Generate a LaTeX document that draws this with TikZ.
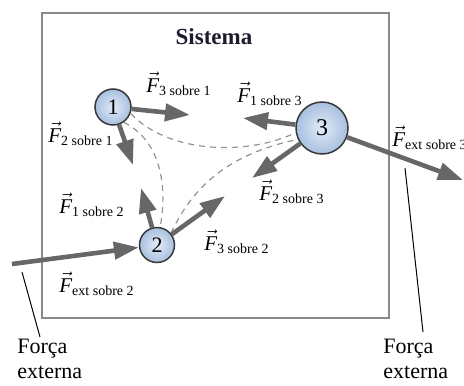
\documentclass[tikz,border=0pt]{standalone}
\usepackage{fontspec}
\setmainfont{Liberation Serif}
\usepackage{amsmath}
\usetikzlibrary{arrows.meta}
\definecolor{arrowgray}{HTML}{676767}
\definecolor{boxgray}{HTML}{8A8A8A}
\definecolor{ballin}{HTML}{E3ECF7}
\definecolor{ballout}{HTML}{A7BFDF}
\definecolor{titlecol}{HTML}{1C1C2E}
\newcommand{\vF}[1]{$\vec{\mathit{F}}_{\text{\fontsize{7}{8}\selectfont #1}}$}
\begin{document}
\begin{tikzpicture}[x=0.5pt,y=-0.5pt,
  force/.style={draw=arrowgray, line width=2.3pt, -{Triangle[length=12.5pt,width=8.5pt]}},
  inter/.style={draw=gray!85, line width=0.6pt, dash pattern=on 3pt off 2.5pt},
  ball/.style={circle, draw=black!78, line width=0.75pt, inner color=ballin, outer color=ballout, inner sep=0pt},
  lbl/.style={anchor=base west, inner sep=0pt, font=\fontsize{10.5}{12}\selectfont},
  leader/.style={draw=black, line width=0.5pt},
  note/.style={anchor=north west, inner sep=0pt, align=left, font=\fontsize{11}{12.5}\selectfont}]
\useasboundingbox (0,0) rectangle (464,385);
% system box
\draw[boxgray, line width=0.8pt] (42,13) rectangle (389,318);
\node[font=\bfseries\fontsize{11.5}{14}\selectfont, text=titlecol, anchor=base, inner sep=0pt] (title) at (214,45) {Sistema};
% particles
\node[ball, minimum size=18pt, font=\fontsize{11}{12}\selectfont] (c1) at (113,107) {1};
\node[ball, minimum size=17.5pt, font=\fontsize{11}{12}\selectfont] (c2) at (157,245) {2};
\node[ball, minimum size=26pt, font=\fontsize{12}{13}\selectfont] (c3) at (322,128) {3};
% interaction dashed lines
\draw[inter] (c1.-20) .. controls (170,155) and (250,155) .. (c3.190);
\draw[inter] (c1.-55) .. controls (160,140) and (168,185) .. (c2.80);
\draw[inter] (c2.40) .. controls (200,170) and (250,150) .. (c3.205);
% arrow tips
\coordinate (t31) at (190,115);
\coordinate (t21) at (133,165);
\coordinate (t13) at (243,118);
\coordinate (t23) at (252,178);
\coordinate (t12) at (141,188);
\coordinate (t32) at (225,196);
\coordinate (e2) at (12,264);
\coordinate (te3) at (463,180);
% forces
\draw[force] (c1) -- (t31);
\draw[force] (c1) -- (t21);
\draw[force] (c3) -- (t13);
\draw[force] (c3) -- (t23);
\draw[force] (c2) -- (t12);
\draw[force] (c2) -- (t32);
\draw[force] (e2) -- (c2);
\draw[force] (c3) -- (te3);
% labels
\node[lbl] (l31) at (146,92) {\vF{3 sobre 1}};
\node[lbl] (l13) at (237,102) {\vF{1 sobre 3}};
\node[lbl] (l21) at (48,142) {\vF{2 sobre 1}};
\node[lbl] (l23) at (259,200) {\vF{2 sobre 3}};
\node[lbl] (l12) at (59,213) {\vF{1 sobre 2}};
\node[lbl] (l32) at (204,250) {\vF{3 sobre 2}};
\node[lbl] (le2) at (59,292) {\vF{ext sobre 2}};
\node[lbl] (le3) at (392,146) {\vF{ext sobre 3}};
% external force notes
\coordinate (la1) at (22,272);
\coordinate (la2) at (40,337);
\coordinate (lb1) at (405,168);
\coordinate (lb2) at (423,332);
\draw[leader] (la1) -- (la2);
\draw[leader] (lb1) -- (lb2);
\node[note] (n1) at (17,339) {Força\\externa};
\node[note] (n2) at (383,339) {Força\\externa};
\end{tikzpicture}
\end{document}
